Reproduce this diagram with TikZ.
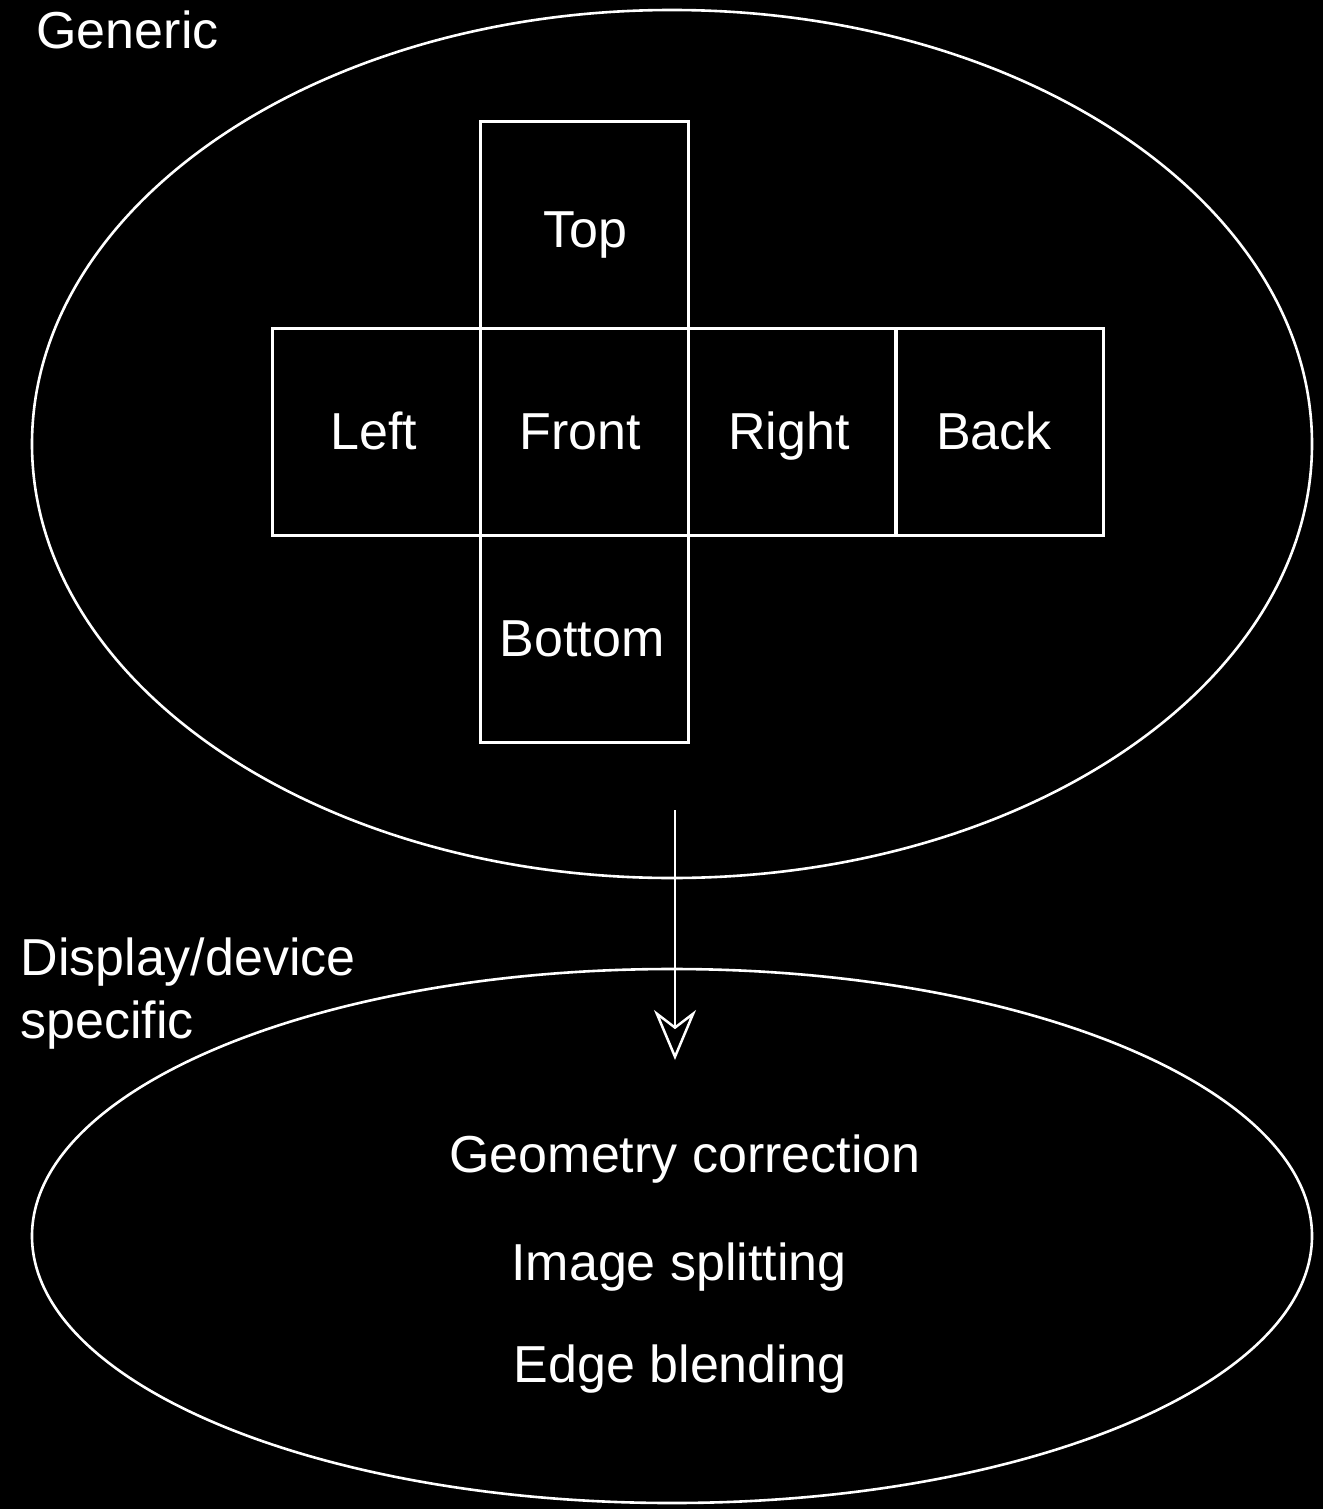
\documentclass[tikz,border=0pt]{standalone}
\usepackage{fontspec}
\setmainfont{Liberation Sans}
\usetikzlibrary{arrows.meta}
\begin{document}
\begin{tikzpicture}[x=1pt,y=-1pt,
  line width=3pt,
  every node/.style={text=white, font=\fontsize{52}{62}\selectfont},
  face/.style={draw=white, minimum width=208pt, minimum height=207pt, inner sep=0pt, anchor=north west},
  blob/.style={draw=white, line width=2.6pt},
  txt/.style={anchor=base, inner sep=0pt},
  lbl/.style={anchor=base west, inner sep=0pt}]
\fill[black] (0,0) rectangle (1323,1509);
\useasboundingbox (0,0) rectangle (1323,1509);
% ellipses
\draw[blob] (672,444) ellipse [x radius=640, y radius=434];
\draw[blob] (672,1236) ellipse [x radius=640, y radius=267];
% cube net
\node[face] (top) at (479,120) {};
\node[face] (left) at (271,327) {};
\node[face] (front) at (479,327) {};
\node[face] (right) at (687,327) {};
\node[face] (back) at (894,327) {};
\node[face] (bottom) at (479,534) {};
\node[txt] (ttop) at (585,247) {Top};
\node[txt] (tleft) at (374,449) {Left};
\node[txt] (tfront) at (580,449) {Front};
\node[txt] (tright) at (789,449) {Right};
\node[txt] (tback) at (994,449) {Back};
\node[txt] (tbottom) at (582,656) {Bottom};
% labels
\node[lbl] (generic) at (35,49) {Generic};
\node[lbl] (disp) at (19,975) {Display/device};
\node[lbl] (spec) at (19,1038) {specific};
\node[txt] (geo) at (685,1172) {Geometry correction};
\node[txt] (img) at (679,1280) {Image splitting};
\node[txt] (edge) at (680,1382) {Edge blending};
% arrow
\coordinate (a0) at (675,810);
\coordinate (a1) at (675,1060);
\draw[white, line width=2.5pt, -{Stealth[open, length=50pt, width=42pt, inset=16pt]}] (a0) -- (a1);
\end{tikzpicture}
\end{document}
